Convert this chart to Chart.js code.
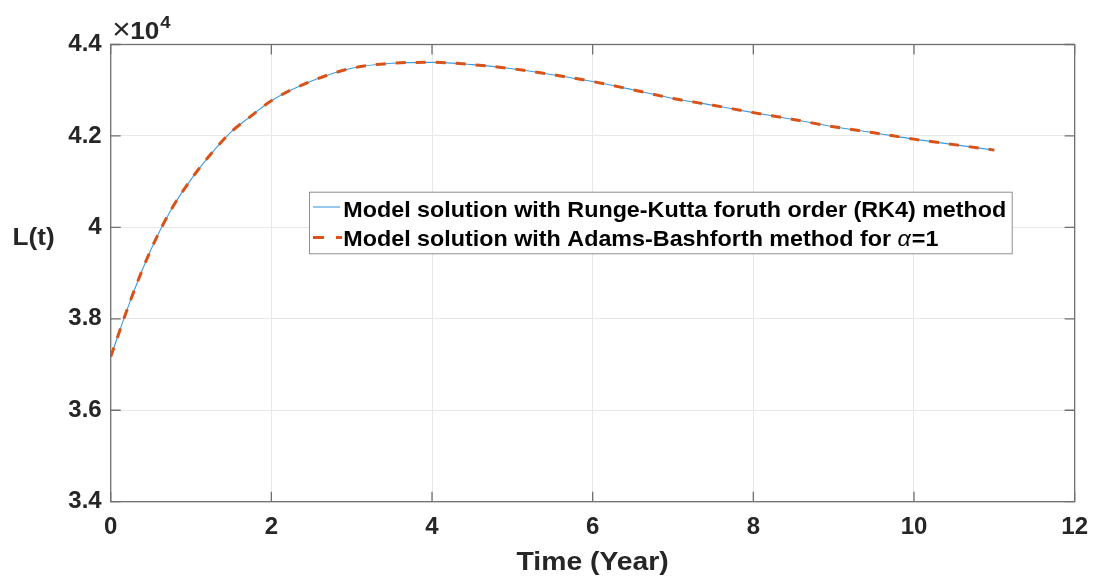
<!DOCTYPE html>
<html>
<head>
<meta charset="utf-8">
<script src="https://cdn.jsdelivr.net/npm/chart.js@4.4.1/dist/chart.umd.min.js"></script>
<style>
  html, body { margin: 0; padding: 0; background: #ffffff; }
  #wrap { width: 1099px; height: 583px; }
</style>
</head>
<body>
<div id="wrap"><canvas id="c" width="1099" height="583"></canvas></div>
<script>
// Time axis (years)
const timeYears = [0, 0.25, 0.5, 0.75, 1, 1.25, 1.5, 1.75, 2, 2.5, 3, 3.5, 4, 4.5, 5, 5.5, 6, 6.5, 7, 7.5, 8, 8.5, 9, 9.5, 10, 10.5, 11];
// L(t) from the RK4 scheme
const rk4Values = [37170, 38420, 39510, 40380, 41050, 41610, 42090, 42440, 42770, 43200, 43480, 43590, 43610, 43560, 43470, 43340, 43190, 43010, 42820, 42670, 42510, 42360, 42200, 42070, 41930, 41810, 41690];
// L(t) from the Adams-Bashforth scheme (alpha = 1)
const abValues = [37170, 38420, 39510, 40380, 41050, 41610, 42090, 42440, 42770, 43200, 43480, 43590, 43610, 43560, 43470, 43340, 43190, 43010, 42820, 42670, 42510, 42360, 42200, 42070, 41930, 41810, 41690];
const xTicks = [0, 2, 4, 6, 8, 10, 12];
const yTicks = [34000, 36000, 38000, 40000, 42000, 44000];
const seriesLabels = [
  'Model solution with Runge-Kutta foruth order (RK4) method',
  'Model solution with Adams-Bashforth method for α=1'
];
const xTitle = 'Time (Year)';
const yTitle = 'L(t)';

const TEXT = '#262626';
const FONT = '"Liberation Sans", Arial, Helvetica, sans-serif';
const SX = 1.09; // horizontal text stretch

function toPoints(xs, ys) { return xs.map((t, i) => ({ x: t, y: ys[i] })); }

function stretchedText(ctx, str, x, y, font, sx, align) {
  ctx.save();
  ctx.font = font;
  ctx.textAlign = align || 'left';
  ctx.textBaseline = 'alphabetic';
  ctx.translate(x, y);
  ctx.scale(sx, 1);
  ctx.fillText(str, 0, 0);
  ctx.restore();
}

const framePlugin = {
  id: 'frame',
  afterDraw(chart) {
    const { ctx, chartArea: a, scales } = chart;
    const xs = scales.x, ys = scales.y;
    ctx.save();

    // axes box
    ctx.strokeStyle = '#6f6f6f';
    ctx.lineWidth = 1.3;
    ctx.strokeRect(a.left, a.top, a.right - a.left, a.bottom - a.top);

    // inward tick marks on all four sides
    ctx.beginPath();
    xs.ticks.forEach(t => {
      const px = xs.getPixelForValue(t.value);
      ctx.moveTo(px, a.bottom); ctx.lineTo(px, a.bottom - 10);
      ctx.moveTo(px, a.top); ctx.lineTo(px, a.top + 10);
    });
    ys.ticks.forEach(t => {
      const py = ys.getPixelForValue(t.value);
      ctx.moveTo(a.left, py); ctx.lineTo(a.left + 10, py);
      ctx.moveTo(a.right, py); ctx.lineTo(a.right - 10, py);
    });
    ctx.stroke();

    ctx.fillStyle = TEXT;
    // exponent marker
    stretchedText(ctx, '×', a.left + 1.5, 39, '29px ' + FONT, SX, 'left');
    stretchedText(ctx, '10', a.left + 19.5, 38.5, 'bold 24px ' + FONT, SX, 'left');
    stretchedText(ctx, '4', a.left + 49.5, 28, 'bold 17px ' + FONT, SX, 'left');

    // axis titles
    stretchedText(ctx, xTitle, (a.left + a.right) / 2, 570, 'bold 26px ' + FONT, SX, 'center');
    stretchedText(ctx, yTitle, 12.5, 245, 'bold 24px ' + FONT, SX, 'left');

    // legend
    const lg = { l: 309, t: 191.7, r: 1011.7, b: 253.3 };
    ctx.fillStyle = '#ffffff';
    ctx.fillRect(lg.l, lg.t, lg.r - lg.l, lg.b - lg.t);
    ctx.strokeStyle = '#8f8f8f';
    ctx.lineWidth = 1;
    ctx.strokeRect(lg.l + 0.5, lg.t + 0.5, lg.r - lg.l, lg.b - lg.t);

    const ds = chart.data.datasets;
    const rowY = [207, 237.5];
    const baseY = [216.7, 246];
    const textX = 343.3;
    const lgFont = 'bold 22px ' + FONT;
    ctx.font = lgFont;
    const lsx = 663 / ctx.measureText(ds[0].label).width;

    // sample lines
    ctx.lineCap = 'butt';
    ctx.strokeStyle = ds[0].borderColor;
    ctx.lineWidth = ds[0].borderWidth;
    ctx.setLineDash([]);
    ctx.beginPath(); ctx.moveTo(313, rowY[0]); ctx.lineTo(340, rowY[0]); ctx.stroke();
    ctx.strokeStyle = ds[1].borderColor;
    ctx.lineWidth = ds[1].borderWidth;
    ctx.setLineDash([11, 12]);
    ctx.beginPath(); ctx.moveTo(313, rowY[1]); ctx.lineTo(342, rowY[1]); ctx.stroke();
    ctx.setLineDash([]);

    ctx.fillStyle = '#000000';
    stretchedText(ctx, ds[0].label, textX, baseY[0], lgFont, lsx, 'left');

    // second entry: alpha in italic
    const lab = ds[1].label;
    const ai = lab.indexOf('α');
    const pre = lab.slice(0, ai), post = lab.slice(ai + 1);
    ctx.font = lgFont;
    const w1 = ctx.measureText(pre).width * lsx;
    stretchedText(ctx, pre, textX, baseY[1], lgFont, lsx, 'left');
    const aFont = 'italic 22px ' + FONT;
    ctx.font = aFont;
    const w2 = ctx.measureText('α').width * lsx;
    stretchedText(ctx, 'α', textX + w1, baseY[1], aFont, lsx, 'left');
    stretchedText(ctx, post, textX + w1 + w2 + 1, baseY[1], lgFont, lsx, 'left');

    ctx.restore();
  }
};

new Chart(document.getElementById('c'), {
  type: 'line',
  data: {
    datasets: [
      {
        label: seriesLabels[0],
        data: toPoints(timeYears, rk4Values),
        borderColor: '#3d9be0',
        borderWidth: 1.1,
        pointRadius: 0,
        cubicInterpolationMode: 'monotone',
        order: 2
      },
      {
        label: seriesLabels[1],
        data: toPoints(timeYears, abValues),
        borderColor: '#D95319',
        borderWidth: 3,
        borderDash: [10, 10],
        pointRadius: 0,
        cubicInterpolationMode: 'monotone',
        order: 1
      }
    ]
  },
  options: {
    responsive: false,
    animation: false,
    layout: { padding: { left: 0, top: 44.5, right: 22, bottom: 0 } },
    plugins: { legend: { display: false }, tooltip: { enabled: false } },
    scales: {
      x: {
        type: 'linear',
        min: 0, max: 12,
        afterBuildTicks: s => { s.ticks = xTicks.map(v => ({ value: v })); },
        afterFit: s => { s.height = 81.3; },
        ticks: {
          color: TEXT,
          font: { family: FONT, size: 24, weight: 'bold' },
          padding: 11,
          maxRotation: 0
        },
        grid: { color: '#e8e8e8', lineWidth: 1, drawTicks: false },
        border: { display: false }
      },
      y: {
        type: 'linear',
        min: 34000, max: 44000,
        afterBuildTicks: s => { s.ticks = yTicks.map(v => ({ value: v })); },
        afterFit: s => { s.width = 110.7; },
        ticks: {
          color: TEXT,
          font: { family: FONT, size: 24, weight: 'bold' },
          padding: 9,
          callback: v => String(parseFloat((v / 10000).toFixed(1)))
        },
        grid: { color: '#e8e8e8', lineWidth: 1, drawTicks: false },
        border: { display: false }
      }
    }
  },
  plugins: [framePlugin]
});
</script>
</body>
</html>
